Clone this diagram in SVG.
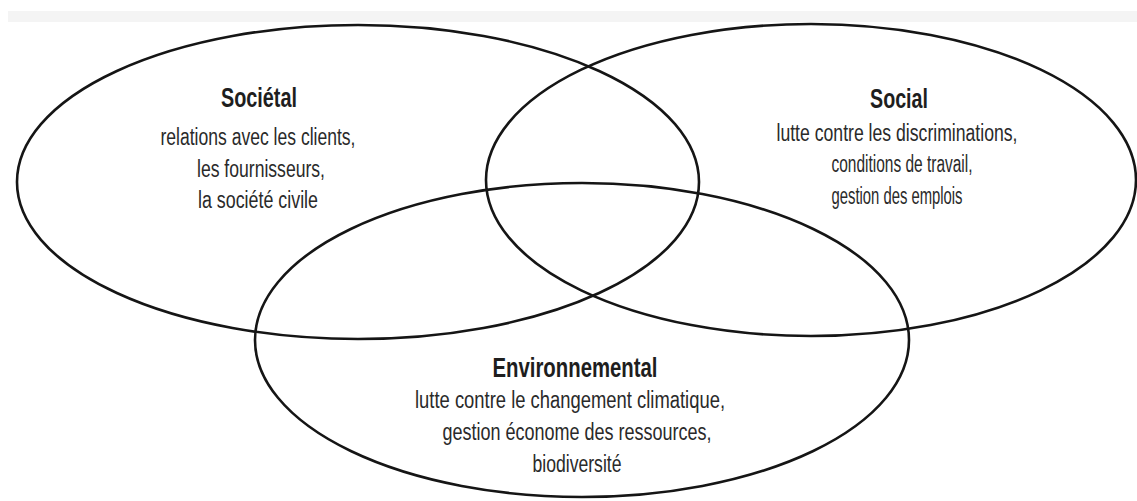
<svg xmlns="http://www.w3.org/2000/svg" width="1137" height="501" viewBox="0 0 1137 501">
<style>
.ring{fill:none;stroke:#151515;stroke-width:2.6}
.t{font-family:"Liberation Sans",Arial,sans-serif;font-weight:bold;font-size:28px;fill:#1e1e1e;text-anchor:middle}
.b{font-family:"Liberation Sans",Arial,sans-serif;font-size:23px;fill:#2a2a2a;text-anchor:middle}
</style>
<rect x="0" y="0" width="1137" height="501" fill="#ffffff"/>
<rect x="8" y="11" width="1129" height="11" fill="#f4f4f4"/>
<g id="societal">
<ellipse class="ring" cx="358" cy="182" rx="341" ry="157"/>
<text class="t" x="259" y="107" textLength="76" lengthAdjust="spacingAndGlyphs">Sociétal</text>
<text class="b" x="258" y="145" textLength="195" lengthAdjust="spacingAndGlyphs">relations avec les clients,</text>
<text class="b" x="261" y="177" textLength="128" lengthAdjust="spacingAndGlyphs">les fournisseurs,</text>
<text class="b" x="258" y="208" textLength="120" lengthAdjust="spacingAndGlyphs">la société civile</text>
</g>
<g id="social">
<ellipse class="ring" cx="811" cy="180" rx="325" ry="156"/>
<text class="t" x="899" y="108" textLength="58" lengthAdjust="spacingAndGlyphs">Social</text>
<text class="b" x="897" y="141" textLength="241" lengthAdjust="spacingAndGlyphs">lutte contre les discriminations,</text>
<text class="b" x="902" y="172" textLength="141" lengthAdjust="spacingAndGlyphs">conditions de travail,</text>
<text class="b" x="897" y="204" textLength="131" lengthAdjust="spacingAndGlyphs">gestion des emplois</text>
</g>
<g id="environnemental">
<ellipse class="ring" cx="582" cy="340" rx="327" ry="157"/>
<text class="t" x="575" y="377" textLength="165" lengthAdjust="spacingAndGlyphs">Environnemental</text>
<text class="b" x="570" y="408" textLength="310" lengthAdjust="spacingAndGlyphs">lutte contre le changement climatique,</text>
<text class="b" x="577" y="440" textLength="269" lengthAdjust="spacingAndGlyphs">gestion économe des ressources,</text>
<text class="b" x="577" y="472" textLength="89" lengthAdjust="spacingAndGlyphs">biodiversité</text>
</g>
<g id="connectors"></g>
</svg>
